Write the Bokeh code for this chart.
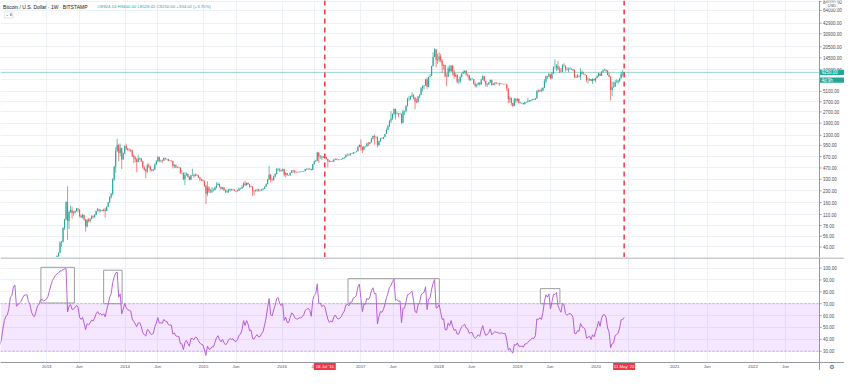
import numpy as np
import pandas as pd
from bokeh.plotting import figure
from bokeh.layouts import column
from bokeh.models import (Range1d, FixedTicker, Span, BoxAnnotation, Label, ColumnDataSource)
from bokeh.core.properties import value
from bokeh.embed import file_html
from bokeh.resources import INLINE

# ---------------- data (weekly BTC/USD, Bitstamp) ----------------
first_week = "2012-01-02"
first_open = 5.3

close_2012 = [6.8, 6.8, 6.3, 6.3, 6.0, 5.6, 4.4, 5.0, 4.9, 4.9, 5.3, 4.7, 4.8, 4.9, 4.9, 5.2, 5.1, 5.0,
              5.0, 5.1, 5.1, 5.2, 5.4, 5.9, 6.4, 6.7, 6.8, 7.3, 8.7, 8.9, 10.9, 11.6, 10.0, 10.2, 10.6,
              10.9, 11.6, 12.3, 12.4, 12.5, 12.0, 11.8, 11.2, 10.9, 10.8, 11.4, 12.3, 12.5, 13.4, 13.5,
              13.4, 13.5, 13.7]
high_2012 = [7.2, 7.2, 7.0, 6.6, 6.3, 6.0, 5.7, 5.1, 5.0, 5.0, 5.5, 5.4, 4.9, 5.0, 5.0, 5.3, 5.2, 5.2,
             5.2, 5.2, 5.2, 5.3, 5.5, 6.0, 6.6, 6.9, 7.0, 7.7, 8.9, 9.3, 11.0, 11.8, 15.4, 11.2, 11.0,
             11.2, 11.8, 12.6, 12.9, 12.8, 12.7, 12.0, 11.9, 11.3, 11.0, 11.6, 12.5, 12.8, 13.6, 13.8,
             13.7, 13.7, 13.8]
low_2012 = [5.2, 6.3, 6.0, 6.0, 5.8, 5.4, 4.3, 4.3, 4.8, 4.7, 4.8, 4.6, 4.7, 4.8, 4.8, 4.9, 4.9, 4.9,
            4.9, 4.9, 5.0, 5.0, 5.2, 5.3, 5.8, 6.3, 6.5, 6.8, 7.2, 8.4, 8.8, 10.5, 7.1, 9.8, 9.9,
            10.4, 10.8, 11.5, 12.0, 12.2, 11.7, 11.5, 10.7, 10.6, 10.5, 10.7, 11.3, 12.1, 12.5, 13.3,
            13.1, 13.2, 13.3]

close_2013 = [14.2, 15.5, 17.6, 20.4, 22.6, 27.0, 30.0, 33.5, 46.0, 47.0, 72.0, 94.0, 162, 90, 119,
              127, 115, 117, 123, 133, 129, 106, 101, 108, 94, 76, 93, 90, 96, 104, 102, 110, 123, 130,
              125, 127, 124, 128, 123, 140, 160, 190, 210, 330, 490, 800, 960, 750, 870, 610, 740, 930]
high_2013 = [14.4, 15.8, 18.0, 20.6, 23.5, 28.0, 31.0, 34.0, 48.0, 48.4, 74.0, 96.0, 165, 266, 125,
             145, 140, 123, 125, 135, 134, 128, 110, 113, 109, 95, 97, 99, 98, 108, 107, 111, 125, 135,
             132, 129, 128, 132, 135, 142, 162, 195, 215, 340, 500, 900, 1163, 1000, 1000, 880, 760, 950]
low_2013 = [13.3, 14.1, 15.3, 17.4, 20.2, 22.5, 26.5, 29.6, 33.0, 40.0, 46.0, 68.0, 92, 50, 70,
            115, 96, 106, 113, 120, 118, 100, 99, 97, 91, 65, 74, 86, 86, 94, 97, 99, 108, 122,
            117, 118, 122, 122, 100, 122, 138, 158, 180, 200, 315, 405, 780, 580, 680, 455, 620, 720]

close_2014 = [860, 830, 820, 810, 690, 650, 610, 565, 630, 635, 580, 480, 445, 420, 510, 495, 445,
              435, 445, 525, 575, 655, 590, 595, 590, 640, 620, 620, 590, 585, 585, 500, 510, 480,
              475, 475, 400, 400, 330, 375, 390, 355, 325, 375, 375, 365, 380, 375, 350, 330, 320, 315]
high_2014 = [1000, 880, 860, 850, 830, 710, 680, 640, 710, 650, 640, 590, 500, 460, 540, 545, 500,
             455, 460, 535, 600, 680, 670, 610, 610, 650, 650, 630, 625, 600, 600, 590, 530, 525,
             495, 490, 480, 440, 410, 410, 410, 395, 365, 380, 460, 395, 395, 385, 380, 355, 335, 330]
low_2014 = [820, 800, 790, 770, 660, 550, 560, 410, 560, 600, 565, 460, 430, 340, 400, 470, 420,
            425, 425, 440, 520, 570, 560, 560, 550, 585, 610, 600, 580, 575, 570, 460, 470, 465,
            465, 465, 390, 385, 320, 275, 370, 350, 320, 320, 365, 345, 360, 365, 345, 310, 310, 310]

close_2015 = [270, 210, 255, 225, 225, 235, 235, 255, 275, 285, 260, 245, 255, 235, 220, 225, 238,
              243, 238, 240, 230, 228, 233, 245, 248, 260, 290, 275, 293, 282, 260, 262, 230, 228,
              235, 240, 232, 233, 240, 245, 262, 283, 325, 380, 330, 325, 360, 390, 450, 460, 440, 432]
high_2015 = [300, 275, 310, 265, 245, 260, 250, 265, 300, 300, 290, 265, 260, 260, 240, 240, 245,
             248, 245, 245, 242, 232, 238, 255, 252, 275, 300, 315, 300, 300, 285, 270, 268, 235,
             240, 245, 245, 240, 245, 250, 265, 290, 335, 500, 390, 340, 370, 400, 470, 465, 460, 445]
low_2015 = [260, 152, 195, 215, 215, 215, 225, 235, 250, 275, 255, 235, 240, 230, 215, 218, 215,
            225, 232, 233, 228, 220, 225, 230, 240, 245, 255, 270, 270, 280, 255, 255, 195, 200,
            225, 225, 225, 225, 233, 235, 245, 260, 283, 325, 300, 310, 315, 350, 385, 430, 415, 415]

close_2016 = [450, 380, 400, 375, 375, 405, 435, 430, 415, 410, 410, 415, 415, 420, 428, 450, 455,
              460, 455, 440, 530, 575, 590, 760, 665, 670, 650, 665, 660, 625, 590, 570, 580, 575,
              610, 625, 610, 605, 610, 620, 640, 655, 700, 705, 700, 730, 730, 765, 770, 790, 900, 960]
high_2016 = [460, 460, 410, 400, 380, 405, 440, 445, 440, 420, 420, 420, 425, 425, 430, 455, 465,
             465, 465, 460, 530, 590, 600, 780, 765, 705, 690, 680, 680, 665, 625, 600, 585, 590,
             612, 630, 625, 615, 615, 625, 645, 660, 720, 740, 740, 750, 750, 770, 775, 795, 935, 980]
low_2016 = [425, 360, 350, 370, 365, 370, 400, 405, 395, 400, 405, 405, 410, 415, 418, 425, 440,
            440, 440, 435, 438, 520, 570, 580, 550, 620, 600, 640, 640, 610, 480, 560, 565, 565,
            565, 600, 600, 595, 600, 605, 615, 630, 650, 680, 690, 690, 725, 725, 755, 760, 785, 890]

close_2017 = [900, 830, 920, 920, 1010, 1000, 1050, 1180, 1270, 1230, 1240, 960, 1080, 1180, 1170,
              1230, 1350, 1550, 1720, 2050, 2200, 2550, 2950, 2500, 2550, 2500, 2550, 1920, 2750,
              2750, 3250, 4050, 4100, 4350, 4550, 4200, 3700, 3650, 4350, 4600, 5650, 6000, 6150,
              7400, 5900, 8000, 8250, 11300, 15000, 19000, 13500, 13800]
high_2017 = [1150, 915, 930, 930, 1030, 1060, 1060, 1195, 1290, 1330, 1260, 1120, 1100, 1200, 1220,
             1240, 1350, 1610, 1800, 2080, 2750, 2550, 2980, 3000, 2750, 2600, 2650, 2550, 2900,
             2800, 3350, 4200, 4480, 4450, 4980, 4700, 4300, 4100, 4380, 4650, 5850, 6200, 6200,
             7600, 7880, 8100, 8750, 11400, 17200, 19666, 19000, 16500]
low_2017 = [800, 750, 810, 890, 915, 930, 980, 1040, 1140, 970, 1170, 890, 930, 1070, 1160,
            1160, 1225, 1350, 1560, 1680, 1900, 2100, 2450, 2120, 2500, 2300, 2480, 1850, 1920,
            2450, 2650, 3200, 3800, 3900, 4300, 4000, 2900, 3550, 3600, 4150, 4550, 5100, 5450,
            6100, 5500, 5800, 7900, 8200, 11100, 15000, 10800, 12000]

close_2018 = [15200, 13500, 11400, 11600, 8200, 8100, 10400, 9600, 11400, 9500, 8200, 8500, 6900,
              6900, 8000, 8900, 9350, 9650, 8700, 8500, 7350, 7500, 7500, 6500, 6100, 6350, 6700,
              6350, 7400, 8200, 7050, 6300, 6400, 6750, 7300, 6250, 6500, 6700, 6600, 6600, 6400,
              6500, 6450, 6400, 6400, 5600, 4000, 4150, 3550, 3250, 4000, 3850, 4050]
high_2018 = [17200, 16500, 14000, 11900, 11700, 9000, 11300, 11700, 11500, 11700, 9900, 9100, 8700,
             7500, 8400, 9000, 9750, 9950, 9900, 8900, 8500, 7800, 7800, 7150, 6800, 6400, 6800,
             6800, 7600, 8500, 8200, 7150, 6600, 6850, 7400, 7400, 6600, 6800, 6800, 6700, 6700,
             6700, 6500, 6500, 6550, 6450, 5600, 4400, 4250, 3600, 4200, 4200, 4100]
low_2018 = [12800, 12600, 9000, 10000, 7900, 6000, 8000, 9300, 9400, 8400, 7600, 8000, 6600,
            6500, 6600, 7900, 8800, 8900, 8350, 7900, 7100, 7100, 7400, 6300, 5800, 5750, 6300,
            6100, 6300, 7300, 6950, 5900, 5900, 6300, 6700, 6100, 6200, 6100, 6400, 6500, 6100,
            6400, 6400, 6300, 6350, 5200, 3550, 3600, 3300, 3150, 3250, 3550, 3700]

close_2019 = [3550, 3550, 3550, 3450, 3650, 3650, 3750, 3850, 3900, 4000, 3950, 4100, 5200, 5150,
              5300, 5200, 5750, 7000, 8200, 8050, 8700, 7650, 8900, 10800, 10800, 11400, 10200,
              9800, 9500, 11500, 11300, 10300, 10100, 10300, 10400, 10300, 10000, 8000, 7900, 8300,
              8200, 9200, 8800, 8700, 8500, 7300, 7400, 7500, 7050, 7500, 7250, 7750]
high_2019 = [4100, 3700, 3650, 3550, 3700, 3720, 4200, 3900, 3950, 4050, 4100, 4150, 5300, 5450,
             5400, 5650, 5800, 7500, 8400, 8300, 9100, 8800, 9350, 11200, 13880, 12000, 13200,
             11100, 10600, 11950, 12300, 11500, 10900, 10700, 10900, 10400, 10300, 10100, 8500, 8800,
             8400, 10500, 9800, 9400, 8800, 8500, 7850, 7700, 7500, 7700, 7650, 7800]
low_2019 = [3500, 3500, 3450, 3350, 3400, 3550, 3650, 3700, 3700, 3850, 3900, 3950, 4100, 4950,
            5050, 5000, 5150, 5650, 6600, 7500, 8000, 7450, 7500, 8900, 10300, 9600, 9900,
            9000, 9150, 9400, 11000, 9500, 9800, 9300, 10050, 9950, 9600, 7750, 7800, 7900,
            7900, 7300, 8700, 8650, 8400, 6800, 6550, 7100, 7000, 6450, 7100, 6850]

close_2020 = [8200, 8900, 8350, 9400, 9900, 9900, 9650, 8550, 8050, 5350, 5800, 5900, 6800, 6900,
              7100, 7700, 8900, 8924.14, 9250.00]
high_2020 = [8450, 9200, 8900, 9600, 10150, 10500, 10250, 9950, 9200, 8200, 6900, 6900, 7300, 7450,
             7300, 7800, 9450, 10000, 9400.00]
low_2020 = [7700, 8100, 8250, 8300, 9150, 9650, 9300, 8500, 8000, 3850, 4450, 5700, 5900, 6700,
            6450, 6800, 7650, 8100, 8528.42]

price_ticks = [40, 56, 78, 110, 160, 230, 330, 470, 670, 950, 1300, 1900, 2700, 3700, 5100, 7300,
               10000, 14500, 20500, 30900, 42900, 64000, 84000]
rsi_ticks = [30, 40, 50, 60, 70, 80, 90, 100]
year_ticks = ["2013", "2014", "2015", "2016", "2017", "2018", "2019", "2020", "2021", "2022"]
marker_dates = ["2016-07-18", "2020-05-11"]
marker_texts = ["18 Jul '16", "11 May '20"]
box_left = ["2012-12-05", "2013-09-23", "2016-11-03", "2019-04-17"]
box_right = ["2013-05-10", "2013-12-18", "2018-01-02", "2019-07-17"]
box_top = [100.6, 98.2, 91.1, 82.7]
box_bottom = [70.6, 70.0, 70.0, 70.0]
header_title = "Bitcoin / U.S. Dollar · 1W · BITSTAMP"
header_ohlc = "O8924.14 H9400.00 L8528.42 C9250.00 +334.02 (+3.75%)"
last_price = 9250.00
countdown = "4d 9h"
rsi_len = 14

# ---------------- assemble ----------------
closes = close_2012 + close_2013 + close_2014 + close_2015 + close_2016 + close_2017 + close_2018 + close_2019 + close_2020
highs = high_2012 + high_2013 + high_2014 + high_2015 + high_2016 + high_2017 + high_2018 + high_2019 + high_2020
lows = low_2012 + low_2013 + low_2014 + low_2015 + low_2016 + low_2017 + low_2018 + low_2019 + low_2020
n = len(closes)
dates = pd.date_range(first_week, periods=n, freq="7D")
c = np.array(closes, dtype=float)
o = np.concatenate([[first_open], c[:-1]])
h = np.maximum(np.array(highs, dtype=float), np.maximum(o, c))
l = np.minimum(np.array(lows, dtype=float), np.minimum(o, c))
UP, DOWN = "#26a69a", "#ef5350"
colors = np.where(c >= o, UP, DOWN)

# RSI (Wilder) of weekly closes
d = np.diff(c)
gain = np.maximum(d, 0.0)
loss = np.maximum(-d, 0.0)
rsi = np.full(n, np.nan)
ag = gain[:rsi_len].mean()
al = loss[:rsi_len].mean()
rsi[rsi_len] = 100 - 100 / (1 + ag / al) if al > 0 else 100.0
for i in range(rsi_len + 1, n):
    ag = (ag * (rsi_len - 1) + gain[i - 1]) / rsi_len
    al = (al * (rsi_len - 1) + loss[i - 1]) / rsi_len
    rsi[i] = 100.0 if al == 0 else 100 - 100 / (1 + ag / al)

src = ColumnDataSource(dict(date=dates, high=h, low=l, top=np.maximum(o, c),
                            bottom=np.minimum(o, c), color=colors, rsi=rsi))

def ms(s):
    return pd.Timestamp(s).value / 1e6

time_ticks, time_labels = [], []
for y in year_ticks:
    time_ticks += [ms(y + "-01-01"), ms(y + "-06-01")]
    time_labels += [y, "Jun"]

# ---------------- geometry ----------------
FONT = "Liberation Sans"
TXT = "#4a4e59"
GRID = "#eef1f7"
AXIS = "#9598a1"
W = 844            # total width (frame covers everything)
PW = 819           # width of the plotting area left of the price scale
PH = 257           # price pane height
RH = 105           # RSI pane height
XH = 8             # time-scale row height

x0 = ms("2012-05-31")
ax = ms("2022-11-06")                 # position of the price scale
mspp = (ax - x0) / PW                 # ms per pixel
x1 = x0 + W * mspp

p_lo, p_hi = 28.8, 87000.0
ppd = PH / np.log10(p_hi / p_lo)      # pixels per decade
def pshift(v, px):
    return v * 10 ** (px / ppd)

r_hi = 108.9
r_lo_pane = 20.5
rpp = (r_hi - r_lo_pane) / RH         # rsi units per pixel
r_lo = r_lo_pane - XH * rpp

def txt(fig, x, y, t, size="4.5px", color=TXT, align="left", font=FONT, baseline="middle"):
    fig.text(x=x, y=y, text=t, text_font=value(font), text_font_size=value(size),
             text_color=color, text_align=align, text_baseline=baseline)

# ---------------- price pane ----------------
p = figure(x_axis_type="datetime", y_axis_type="log", x_range=Range1d(x0, x1),
           y_range=Range1d(p_lo, p_hi), width=W, height=PH,
           x_axis_location=None, y_axis_location=None, output_backend="svg",
           toolbar_location=None, min_border=0, outline_line_color=None,
           background_fill_color="white", border_fill_color="white")
p.ygrid.ticker = FixedTicker(ticks=price_ticks)
p.ygrid.grid_line_color = GRID
p.xgrid.ticker = FixedTicker(ticks=time_ticks)
p.xgrid.grid_line_color = GRID

# price scale column background
p.quad(left=[ax], right=[x1], bottom=[p_lo], top=[p_hi], fill_color="white", line_color=None)

p.segment(x0="date", y0="low", x1="date", y1="high", line_color="color", line_width=1,
          line_alpha=0.7, source=src)
p.vbar(x="date", width=5 * 24 * 3600 * 1000, top="top", bottom="bottom", fill_color="color",
       line_color=None, source=src)

for dd in marker_dates:
    p.add_layout(Span(location=ms(dd), dimension="height", line_color="#f23645",
                      line_dash="5 4", line_width=1.5))
# last price line
p.segment(x0=[x0], y0=[last_price], x1=[ax], y1=[last_price], line_color=UP, line_alpha=0.45,
          line_width=1)

# price scale: line, ticks, labels
p.add_layout(Span(location=ax, dimension="height", line_color=AXIS, line_width=1))
p.segment(x0=[ax] * len(price_ticks), y0=price_ticks, x1=[ax + 2 * mspp] * len(price_ticks),
          y1=price_ticks, line_color=AXIS, line_width=1)
txt(p, [ax + 3.5 * mspp] * len(price_ticks), price_ticks, ["%.2f" % v for v in price_ticks])

# last-price tag and countdown tag
p.quad(left=[ax], right=[x1], bottom=[pshift(last_price, -2.7)], top=[pshift(last_price, 2.7)],
       fill_color=UP, line_color=None)
txt(p, [ax + 2 * mspp], [last_price], ["9250.00"], color="white")
p.quad(left=[ax], right=[x1], bottom=[pshift(last_price, -10.4)], top=[pshift(last_price, -5.0)],
       fill_color=UP, line_color=None)
txt(p, [ax + 2 * mspp], [pshift(last_price, -7.7)], [countdown], color="white")

# currency tag
p.quad(left=[ax + 6.5 * mspp], right=[ax + 18.5 * mspp], bottom=[pshift(p_hi, -8)],
       top=[pshift(p_hi, -2.2)], fill_color="white", line_color="#e0e3eb", line_width=0.6)
txt(p, [ax + 12.5 * mspp], [pshift(p_hi, -5.1)], ["USD"], size="4px", align="center")

# header
p.add_layout(Label(x=2.6, y=PH - 6, x_units="screen", y_units="screen", text=header_title,
                   text_font=FONT, text_font_size="5px", text_color="#131722",
                   text_baseline="middle"))
p.add_layout(Label(x=97, y=PH - 6, x_units="screen", y_units="screen", text=header_ohlc,
                   text_font=FONT, text_font_size="4.3px", text_color=UP,
                   text_baseline="middle"))
p.add_layout(Label(x=4, y=PH - 14.5, x_units="screen", y_units="screen", text="⌄ 6",
                   text_font="DejaVu Sans", text_font_size="3.6px", text_color=TXT,
                   text_baseline="middle", border_line_color="#d1d4dc", border_line_width=0.6,
                   padding=1))

# ---------------- RSI pane + time scale ----------------
r = figure(x_axis_type="datetime", x_range=p.x_range, y_range=Range1d(r_lo, r_hi),
           width=W, height=RH + XH, x_axis_location=None, y_axis_location=None,
           output_backend="svg", toolbar_location=None, min_border=0, outline_line_color=None,
           background_fill_color="white", border_fill_color="white")
r.ygrid.ticker = FixedTicker(ticks=rsi_ticks)
r.ygrid.grid_line_color = GRID
r.xgrid.ticker = FixedTicker(ticks=time_ticks)
r.xgrid.grid_line_color = GRID

# scale column and time row backgrounds
r.quad(left=[ax], right=[x1], bottom=[r_lo], top=[r_hi], fill_color="white", line_color=None)
r.quad(left=[x0], right=[x1], bottom=[r_lo], top=[r_lo_pane], fill_color="white", line_color=None)

r.add_layout(BoxAnnotation(bottom=30, top=70, right=ax, fill_color="#9915ff", fill_alpha=0.1,
                           line_color=None))
r.segment(x0=[x0, x0], y0=[30, 70], x1=[ax, ax], y1=[30, 70], line_color="#787b86",
          line_alpha=0.5, line_dash="2 2", line_width=1)

r.quad(left=[pd.Timestamp(v) for v in box_left], right=[pd.Timestamp(v) for v in box_right],
       top=box_top, bottom=box_bottom, fill_alpha=0, line_color="#9e9e9e", line_width=1)
r.line("date", "rsi", source=src, line_color="#b866d6", line_width=1)

# separators and scale lines
r.add_layout(Span(location=r_hi - 0.5 * rpp, dimension="width", line_color=AXIS, line_width=1))
r.add_layout(Span(location=ax, dimension="height", line_color=AXIS, line_width=1))
r.add_layout(Span(location=r_lo_pane, dimension="width", line_color=AXIS, line_width=1))

# RSI scale
r.segment(x0=[ax] * len(rsi_ticks), y0=rsi_ticks, x1=[ax + 2 * mspp] * len(rsi_ticks),
          y1=rsi_ticks, line_color=AXIS, line_width=1)
txt(r, [ax + 3.5 * mspp] * len(rsi_ticks), rsi_ticks, ["%.2f" % v for v in rsi_ticks])

# time scale
row_mid = r_lo_pane - (XH / 2 + 0.3) * rpp
txt(r, time_ticks, [row_mid] * len(time_ticks), time_labels, size="4.3px", align="center")
mk = [ms(v) for v in marker_dates]
r.quad(left=[m - 11 * mspp for m in mk], right=[m + 11 * mspp for m in mk],
       bottom=[r_lo] * len(mk), top=[r_lo_pane - 0.6 * rpp] * len(mk),
       fill_color="#f23645", line_color=None)
txt(r, mk, [row_mid] * len(mk), marker_texts, size="4.3px", color="white", align="center")
txt(r, [ax + 12.5 * mspp], [row_mid], ["⚙"], size="6px", align="center", font="DejaVu Sans")

layout = column(p, r, spacing=0)
open("out.html", "w").write(file_html(layout, INLINE))
